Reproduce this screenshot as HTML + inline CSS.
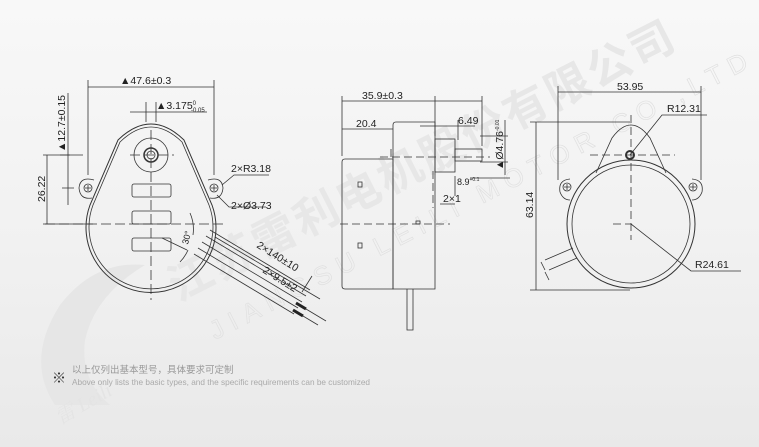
<!DOCTYPE html>
<html><head><meta charset="utf-8"><style>
html,body{margin:0;padding:0;}
body{width:759px;height:447px;overflow:hidden;background:linear-gradient(180deg,#f8f8f8 0%,#f1f1f1 55%,#e9e9e9 100%);font-family:"Liberation Sans","Noto Sans CJK SC",sans-serif;}
svg{position:absolute;left:0;top:0;}
</style></head><body>
<svg width="759" height="447" viewBox="0 0 759 447" xmlns="http://www.w3.org/2000/svg" font-family="Liberation Sans, Noto Sans CJK SC, sans-serif">
<!-- watermark -->
<g fill="#e7e7e7" font-family="Noto Sans CJK SC, sans-serif" font-weight="bold">
<text x="178" y="302" font-size="44" transform="rotate(-27 178 302)" letter-spacing="3">江苏雷利电机股份有限公司</text>
</g>
<text x="215" y="340" font-size="26" fill="none" stroke="#e0e0e0" stroke-width="0.7" transform="rotate(-27 215 340)" letter-spacing="8">JIANGSU LEILI MOTOR CO.,LTD</text>
<path d="M55 405 Q25 360 60 305 Q95 260 145 265 Q95 295 85 340 Q80 380 110 405 Z" fill="#e6e6e6"/>
<text x="60" y="425" font-size="20" fill="#e4e4e4" font-style="italic" transform="rotate(-30 60 425)" font-family="Liberation Serif, Noto Serif CJK SC, serif">雷 Leili</text>

<g stroke="#333" stroke-width="0.8" fill="none">
<!-- LEFT VIEW -->
<path d="M118,140 Q151,108 184,140 L212,205 A65,65 0 1 1 90,205 Z" stroke-width="1"/>
<path d="M120,142 Q151,112 182,142 L209,205 A62,62 0 1 1 93,205 Z"/>
<path d="M94,180 Q80,176 79,188 Q80,200 92,198"/>
<path d="M208,180 Q222,176 223,188 Q222,200 210,198"/>
<circle cx="88" cy="188" r="4"/><circle cx="214" cy="188" r="4"/>
<path d="M85,188h6M88,185v6M211,188h6M214,185v6"/>
<circle cx="151" cy="155" r="17"/>
<circle cx="151" cy="155" r="7" stroke-width="1.5"/>
<circle cx="151" cy="155" r="4"/>
<rect x="132" y="184" width="39" height="13" rx="2"/>
<rect x="132" y="211" width="39" height="13" rx="2"/>
<rect x="132" y="238" width="39" height="13" rx="2"/>
<path d="M151,130v170M45,224h180M130,155h44" stroke-dasharray="10,4"/>
<path d="M88,175V80M214,175V80M88,87h126"/>
<path d="M130,112h36M146,102v20M156,102v20M157,112h50"/>
<path d="M68,93V205M60,155h10M62,188h12"/>
<path d="M43,155h40M43,224h50M47,155v69"/>
<path d="M222,185l12,-10h35M217,195l12,12h37"/>
<path d="M190,213 A40 40 0 0 1 193,235M180,262 A40 40 0 0 0 188,250"/>
<path d="M162,238l25,12"/>
<path d="M210,230l100,60M206,236l100,60M202,242l100,60M198,248l100,60M194,254l100,60"/>
<path d="M215,237l105,62M302,292l10,-16"/>
<path d="M296,303l10,6M293,310l10,6" stroke-width="3" stroke="#222"/>
<path d="M306,309l20,12M303,316l15,9"/>
<!-- MIDDLE VIEW -->
<path d="M345,159h48v130h-48q-3,0 -3,-3v-124q0,-3 3,-3z"/>
<path d="M396,122h39v167h-42v-164q0,-3 3,-3z"/>
<rect x="435" y="139" width="20" height="33"/>
<rect x="455" y="149" width="27" height="12"/>
<path d="M407,289v41h6v-41"/>
<rect x="358" y="182" width="4" height="5"/><rect x="358" y="243" width="4" height="5"/>
<rect x="416" y="221" width="4" height="3"/>
<path d="M391,149v8M433,171v37M340,224h110M380,157h110" stroke-dasharray="8,4"/>
<path d="M342,96v60M482,96v50M435,96v40M342,101h140M342,129h51M420,126h55M458,120v20M480,136h28M480,162h28M505,120v55M470,178h40M455,176v20M440,204h15"/>
<!-- RIGHT VIEW -->
<circle cx="631" cy="224" r="64" stroke-width="1"/>
<circle cx="631" cy="224" r="59"/>
<path d="M596,173 L612,138 Q631,112 650,138 L666,173"/>
<path d="M570,179 Q558,180 560,192 Q563,200 570,200M692,179 Q704,180 702,192 Q699,200 692,200"/>
<circle cx="567" cy="187" r="4"/><circle cx="693" cy="187" r="4"/>
<path d="M564,187h6M567,184v6M690,187h6M693,184v6"/>
<circle cx="630" cy="155" r="4" stroke-width="2"/>
<path d="M631,115v125M590,155h85M613,224h18" stroke-dasharray="8,4"/>
<path d="M545,260l28,-12M549,270l28,-12M541,262l4,8M545,272l4,8" />
<path d="M558,180V86M701,180V86M558,92h143"/>
<path d="M530,122h100M530,290h100M536,122v168"/>
<path d="M630,155l32,-40h45"/>
<path d="M631,224l60,47h50"/>
</g>
<g fill="#222" font-size="10.5">
<text x="120" y="84">▲47.6±0.3</text>
<text x="156" y="109">▲3.175<tspan font-size="6" dy="-4">0</tspan><tspan font-size="6" dx="-5" dy="7">-0.05</tspan></text>
<text transform="translate(65,152) rotate(-90)">▲12.7±0.15</text>
<text transform="translate(45,202) rotate(-90)">26.22</text>
<text x="231" y="172">2×R3.18</text>
<text x="231" y="209">2×Ø3.73</text>
<text x="181" y="244" transform="rotate(-75 185 240)" font-size="9">30°</text>
<text x="256" y="247" transform="rotate(32 256 247)">2×140±10</text>
<text x="262" y="272" transform="rotate(32 262 272)">2×9.5±2</text>
<text x="362" y="99">35.9±0.3</text>
<text x="356" y="127">20.4</text>
<text x="458" y="124">6.49</text>
<text transform="translate(503,170) rotate(-90)">▲Ø4.76<tspan font-size="5" dy="-4">-0.01</tspan></text>
<text x="457" y="185" font-size="9">8.9<tspan font-size="5" dy="-4">+0.1</tspan></text>
<text x="443" y="202">2×1</text>
<text x="617" y="90">53.95</text>
<text transform="translate(533,218) rotate(-90)">63.14</text>
<text x="667" y="112">R12.31</text>
<text x="695" y="268">R24.61</text>
</g>
<text x="52" y="383" font-size="14" fill="#333">※</text>
<text x="72" y="373" font-size="9.5" fill="#999" font-family="Noto Sans CJK SC, sans-serif">以上仅列出基本型号，具体要求可定制</text>
<text x="72" y="385" font-size="8.3" fill="#aaa" textLength="298" lengthAdjust="spacingAndGlyphs">Above only lists the basic types, and the specific requirements can be customized</text>
</svg>
</body></html>
